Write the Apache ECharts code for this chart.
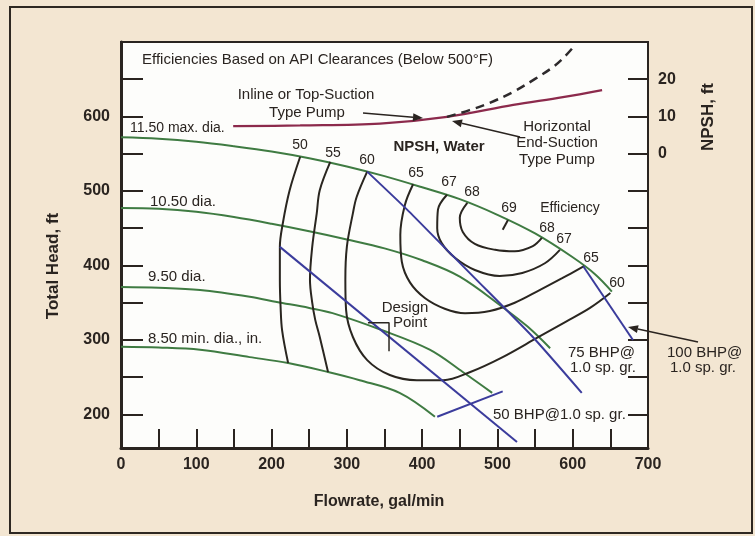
<!DOCTYPE html>
<html><head><meta charset="utf-8">
<script src="https://cdn.jsdelivr.net/npm/echarts@6/dist/echarts.min.js"></script>
<style>html,body{margin:0;padding:0;background:#f3e6d2;} #c{width:755px;height:536px;}</style>
</head><body><div id="c"></div>
<script>
// ---- data (flow gal/min, head ft) ----
const xTickLabels = [0,100,200,300,400,500,600,700];
const headTicks = [200,250,300,350,400,450,500,550,600,650];
const headLabels = [200,300,400,500,600];
const npshTicks = [-70,-60,-50,-40,-30,-20,-10,0,10,20];
const npshLabels = [0,10,20];

const head115 = [[0,572],[50,570],[100,566],[150,560],[200,553],[250,544],[300,533],[350,520],[400,505],[450,489],[500,468],[550,443],[600,411],[630,388],[652,365]];
const head105 = [[0,477],[50,476],[100,472],[150,465],[200,456],[250,446],[300,435],[350,423],[400,407],[450,385],[507,344],[540,318],[570,289]];
const head95  = [[0,371],[50,370],[105,367],[171,358],[207,351],[250,343],[281,336],[347,313],[410,287],[454,257],[493,229]];
const head85  = [[0,291],[50,290],[105,287],[171,277],[222,269],[275,257],[317,246],[370,229],[417,197]];

const eff50 = [[238,546],[224,501],[215,457],[211,425],[211,380],[212,344],[214,313],[222,269]];
const eff55 = [[278,539],[264,501],[260,470],[254,425],[251,381],[254,350],[258,327],[264,304],[275,257]];
const eff60 = [[327,526],[313,492],[308,470],[300,425],[298,381],[299,340],[308,304],[327,273],[357,253],[393,246],[428,246],[464,257],[507,277],[553,303],[590,324],[623,343],[650,363]];
const eff65 = [[388,509],[377,481],[371,441],[373,405],[384,377],[404,356],[430,342],[457,336],[490,339],[523,350],[556,367],[586,383],[615,399]];
const eff67 = [[433,495],[421,475],[420,450],[426,430],[444,410],[470,394],[503,386],[533,390],[563,403],[583,421]];
const eff68 = [[460,484],[450,464],[454,445],[470,429],[497,421],[523,419],[547,426],[559,437]];
const eff69 = [[507,448],[514,461]];

const bhp50  = [[211,425],[526,163]];
const bhp75  = [[327,526],[380,475],[424,430],[468,385],[547,304],[612,229]];
const bhp100 = [[614,399],[680,300]];
const endOfCurve = [[420,197],[507,231]];

const npshSolid  = [[149,7.4],[238,7.6],[344,8.1],[433,9.9],[521,13.1],[587,15.2],[639,17.1]];
const npshDashed = [[433,9.9],[463,11.7],[489,13.6],[521,16.6],[550,20.1],[574,23.3],[590,26.2],[602,28.9]];

const designPoint = [[328,323],[356,323],[356,285]];

// ---- chart ----
const FONT = '"Liberation Sans", Arial, sans-serif';
const TXT = '#2a2420';
const G = '#3f7b42', B = '#3b3c9c', K = '#2a2620', M = '#8c2a4c';

function ln(name, data, color, extra) {
  return Object.assign({type:'line', name, data, smooth:0.35, symbol:'none', silent:true,
    lineStyle:{color, width:2}, z:3}, extra || {});
}

function txt(text, x, y, opt) {
  opt = opt || {};
  return {type:'text', x, y, rotation: opt.rot || 0, z:50,
    style:{text, fill: TXT, font: (opt.bold ? 'bold ' : '') + (opt.size || 15) + 'px ' + FONT,
      align: opt.align || 'left', verticalAlign:'middle'}};
}
function arrow(x1, y1, x2, y2) {
  const a = Math.atan2(y2 - y1, x2 - x1), L = 10, W = 4;
  const bx = x2 - L*Math.cos(a), by = y2 - L*Math.sin(a);
  return [
    {type:'line', z:50, shape:{x1, y1, x2: bx, y2: by}, style:{stroke:TXT, lineWidth:1.5}},
    {type:'polygon', z:50, shape:{points:[[x2,y2],[bx + W*Math.sin(a), by - W*Math.cos(a)],[bx - W*Math.sin(a), by + W*Math.cos(a)]]}, style:{fill:TXT}}
  ];
}

const graphics = [
  {type:'rect', z:-1, shape:{x:10, y:7, width:742, height:526}, style:{fill:'none', stroke:'#2e2822', lineWidth:2}},
  txt('Efficiencies Based on API Clearances (Below 500°F)', 142, 60, {size:15}),
  txt('Inline or Top-Suction', 306, 95, {align:'center'}),
  txt('Type Pump', 307, 113, {align:'center'}),
  txt('NPSH, Water', 439, 147, {align:'center', bold:true}),
  txt('Horizontal', 557, 127, {align:'center'}),
  txt('End-Suction', 557, 143, {align:'center'}),
  txt('Type Pump', 557, 160, {align:'center'}),
  txt('11.50 max. dia.', 130, 128, {size:14}),
  txt('10.50 dia.', 150, 202),
  txt('9.50 dia.', 148, 277),
  txt('8.50 min. dia., in.', 148, 339),
  txt('50', 300, 145, {align:'center', size:14}),
  txt('55', 333, 153, {align:'center', size:14}),
  txt('60', 367, 160, {align:'center', size:14}),
  txt('65', 416, 173, {align:'center', size:14}),
  txt('67', 449, 182, {align:'center', size:14}),
  txt('68', 472, 192, {align:'center', size:14}),
  txt('69', 509, 208, {align:'center', size:14}),
  txt('Efficiency', 570, 208, {align:'center', size:14}),
  txt('68', 547, 228, {align:'center', size:14}),
  txt('67', 564, 239, {align:'center', size:14}),
  txt('65', 591, 258, {align:'center', size:14}),
  txt('60', 617, 283, {align:'center', size:14}),
  txt('Design', 405, 308, {align:'center'}),
  txt('Point', 410, 323, {align:'center'}),
  txt('75 BHP@', 568, 353),
  txt('1.0 sp. gr.', 570, 368),
  txt('100 BHP@', 667, 353),
  txt('1.0 sp. gr.', 670, 368),
  txt('50 BHP@1.0 sp. gr.', 493, 415),
  txt('Total Head, ft', 53, 266, {align:'center', bold:true, size:17, rot:Math.PI/2}),
  txt('NPSH, ft', 708, 117, {align:'center', bold:true, size:17, rot:Math.PI/2}),
  txt('Flowrate, gal/min', 379, 502, {align:'center', bold:true, size:16})
].concat(arrow(363,113,423,118), arrow(520,137,452,121), arrow(698,342,628,327));

const axisLabelStyle = {color:TXT, fontSize:16, fontWeight:'bold', fontFamily:FONT};

const option = {
  animation:false,
  backgroundColor:'#f3e6d2',
  grid:{left:121, top:42, right:107, bottom:88, show:true, backgroundColor:'#fdfdfb', borderColor:'#2a2420', borderWidth:2},
  xAxis:{type:'value', min:0, max:700, interval:50,
    axisLine:{show:true, onZero:false, lineStyle:{color:TXT, width:3}},
    axisTick:{inside:true, length:19, lineStyle:{color:TXT, width:2}},
    axisLabel:Object.assign({interval:1, margin:9, formatter:v => xTickLabels.includes(v) ? String(v) : ''}, axisLabelStyle),
    splitLine:{show:false}},
  yAxis:[
    {type:'value', min:155, max:700, position:'left',
      axisLine:{show:true, lineStyle:{color:TXT, width:3}},
      axisTick:{inside:true, length:22, customValues:headTicks, lineStyle:{color:TXT, width:2}},
      axisLabel:Object.assign({customValues:headLabels, margin:11}, axisLabelStyle),
      splitLine:{show:false}},
    {type:'value', min:-79, max:30, position:'right',
      axisLine:{show:true, lineStyle:{color:TXT, width:2}},
      axisTick:{inside:true, length:20, customValues:npshTicks, lineStyle:{color:TXT, width:2}},
      axisLabel:Object.assign({customValues:npshLabels, margin:10}, axisLabelStyle),
      splitLine:{show:false}}
  ],
  series:[
    ln('11.50 dia', head115, G),
    ln('10.50 dia', head105, G),
    ln('9.50 dia', head95, G),
    ln('8.50 dia', head85, G),
    ln('eff 50', eff50, K),
    ln('eff 55', eff55, K),
    ln('eff 60', eff60, K),
    ln('eff 65', eff65, K),
    ln('eff 67', eff67, K),
    ln('eff 68', eff68, K),
    ln('eff 69', eff69, K, {smooth:false}),
    ln('50 BHP', bhp50, B, {smooth:false}),
    ln('75 BHP', bhp75, B, {smooth:0.2}),
    ln('100 BHP', bhp100, B, {smooth:false}),
    ln('end of curve', endOfCurve, B, {smooth:false}),
    ln('NPSH horizontal', npshSolid, M, {yAxisIndex:1, lineStyle:{color:M, width:2.2}}),
    ln('NPSH inline', npshDashed, '#2e2a2c', {yAxisIndex:1, lineStyle:{color:'#2e2a2c', width:2.5, type:[9,6]}}),
    ln('Design point', designPoint, K, {smooth:false, lineStyle:{color:K, width:1.5}})
  ],
  graphic: graphics
};
const chart = echarts.init(document.getElementById('c'));
chart.setOption(option);
</script>
</body></html>
